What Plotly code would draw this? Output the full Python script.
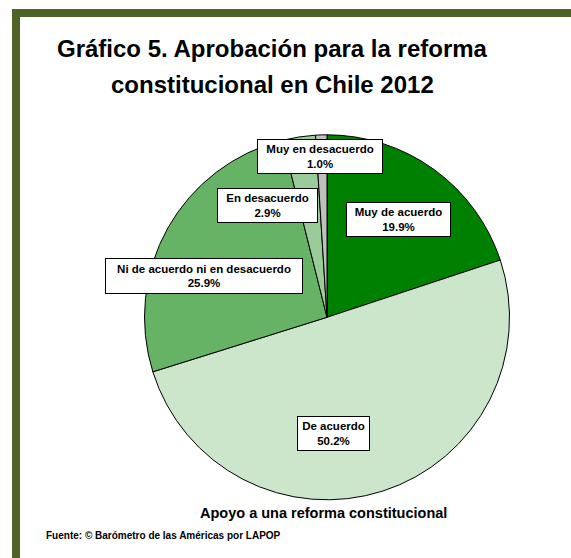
import plotly.graph_objects as go

# Survey responses, in drawing order (clockwise from 12 o'clock)
categories = [
    "Muy de acuerdo",
    "De acuerdo",
    "Ni de acuerdo ni en desacuerdo",
    "En desacuerdo",
    "Muy en desacuerdo",
]
shares = [19.9, 50.2, 25.9, 2.9, 1.0]
slice_colors = ["#008000", "#CCE6CC", "#66B366", "#99CC99", "#C0C0C0"]

title_lines = ["Gráfico 5. Aprobación para la reforma", "constitucional en Chile 2012"]
axis_caption = "Apoyo a una reforma constitucional"
source_note = "Fuente: © Barómetro de las Américas por LAPOP"

W, H = 571, 558
FONT = "Liberation Sans, Arial, sans-serif"

# pie placement in pixels (centre and radius)
cx, cy, r = 327.0, 317.3, 182.5

# label box centres / sizes in pixels, one per category
box_layout = {
    "Muy de acuerdo": (398.5, 219.5, 105, 35),
    "De acuerdo": (333.5, 433.5, 73, 35),
    "Ni de acuerdo ni en desacuerdo": (204.0, 276.0, 198, 36),
    "En desacuerdo": (267.5, 205.5, 101, 35),
    "Muy en desacuerdo": (320.0, 156.5, 126, 35),
}


def px(x):
    return x / W


def py(y):
    return 1 - y / H


fig = go.Figure(
    go.Pie(
        labels=categories,
        values=shares,
        marker=dict(colors=slice_colors, line=dict(color="#000000", width=1)),
        sort=False,
        direction="clockwise",
        rotation=0,
        textinfo="none",
        hoverinfo="label+percent",
        showlegend=False,
        domain=dict(x=[px(cx - r), px(cx + r)], y=[py(cy + r), py(cy - r)]),
    )
)

annotations = []
for cat, val in zip(categories, shares):
    bx, by, bw, bh = box_layout[cat]
    annotations.append(
        dict(
            x=px(bx), y=py(by), xref="paper", yref="paper",
            text=f"<b>{cat}<br>{val:.1f}%</b>",
            showarrow=False,
            font=dict(family=FONT, size=11.5, color="#000000"),
            bgcolor="#FFFFFF", bordercolor="#000000", borderwidth=1,
            borderpad=0, width=bw - 2, height=bh - 2,
            align="center", valign="middle",
            xanchor="center", yanchor="middle",
        )
    )

# two-line heading
for text, yc in zip(title_lines, [48, 85]):
    annotations.append(
        dict(
            x=px(272), y=py(yc), xref="paper", yref="paper",
            text=f"<b>{text}</b>", showarrow=False,
            font=dict(family=FONT, size=24, color="#000000"),
            xanchor="center", yanchor="middle",
        )
    )

annotations.append(
    dict(
        x=px(323.5), y=py(513), xref="paper", yref="paper",
        text=f"<b>{axis_caption}</b>", showarrow=False,
        font=dict(family=FONT, size=14.5, color="#000000"),
        xanchor="center", yanchor="middle",
    )
)
annotations.append(
    dict(
        x=px(44), y=py(535), xref="paper", yref="paper",
        text=f"<b>{source_note}</b>", showarrow=False,
        font=dict(family=FONT, size=10, color="#000000"),
        xanchor="left", yanchor="middle",
    )
)

# olive frame along the top and left edges
frame_color = "#4F6228"
shapes = [
    dict(type="rect", xref="paper", yref="paper",
         x0=px(12), x1=1.0, y0=py(17), y1=py(9),
         fillcolor=frame_color, line=dict(width=0), layer="below"),
    dict(type="rect", xref="paper", yref="paper",
         x0=px(12), x1=px(20), y0=0.0, y1=py(9),
         fillcolor=frame_color, line=dict(width=0), layer="below"),
]

fig.update_layout(
    width=W, height=H,
    margin=dict(l=0, r=0, t=0, b=0),
    paper_bgcolor="#FFFFFF", plot_bgcolor="#FFFFFF",
    annotations=annotations, shapes=shapes,
)

fig.write_html("out.html", config={"displayModeBar": False})
